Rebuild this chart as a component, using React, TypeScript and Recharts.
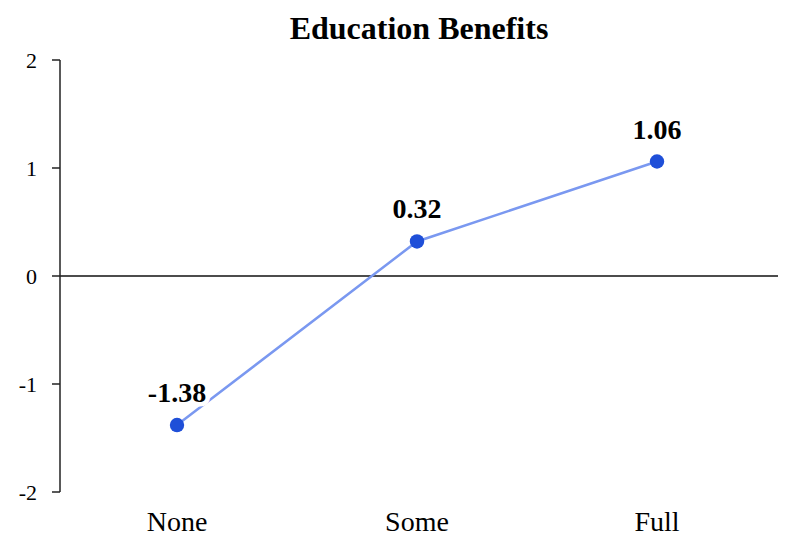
import {
  LineChart,
  Line,
  XAxis,
  YAxis,
  ReferenceLine,
  LabelList,
} from "recharts";

const levels = ["None", "Some", "Full"];
const benefit = [-1.38, 0.32, 1.06];
const yTicks = [-2, -1, 0, 1, 2];

const data = levels.map((level, i) => ({ level, value: benefit[i] }));

const serif = "'Liberation Serif', 'Times New Roman', serif";

// value label above each point, with a white halo so the line is cut behind it
function PointLabel(props: any) {
  const { x, y, value } = props;
  return (
    <text
      x={x}
      y={y - 23}
      textAnchor="middle"
      fontFamily={serif}
      fontSize={28}
      fontWeight="bold"
      fill="#000"
      stroke="#fff"
      strokeWidth={9}
      strokeLinejoin="round"
      paintOrder="stroke"
    >
      {Number(value).toFixed(2)}
    </text>
  );
}

export default function App() {
  return (
    <div
      style={{
        position: "absolute",
        left: 0,
        top: 0,
        width: 792,
        height: 539,
        background: "#fff",
      }}
    >
      <div
        style={{
          position: "absolute",
          top: 12,
          left: 60,
          width: 718,
          textAlign: "center",
          fontFamily: serif,
          fontWeight: "bold",
          fontSize: 32,
          lineHeight: "32px",
        }}
      >
        Education Benefits
      </div>

      <LineChart
        width={792}
        height={539}
        data={data}
        margin={{ top: 60, right: 14, bottom: 0, left: 0 }}
      >
        <XAxis
          dataKey="level"
          height={47}
          axisLine={false}
          tickLine={false}
          tickMargin={13}
          padding={{ left: 117, right: 121 }}
          tick={{ fontFamily: serif, fontSize: 28, fill: "#000" }}
        />
        <YAxis
          width={60}
          domain={[-2, 2]}
          ticks={yTicks}
          tickSize={8}
          tickMargin={15}
          axisLine={{ stroke: "#222", strokeWidth: 1.5 }}
          tickLine={{ stroke: "#222", strokeWidth: 1.5 }}
          tick={{ fontFamily: serif, fontSize: 22, fill: "#000" }}
        />
        <ReferenceLine y={0} stroke="#111" strokeWidth={1.5} />
        <Line
          dataKey="value"
          stroke="#7a98f0"
          strokeWidth={2.5}
          dot={{ r: 7.2, fill: "#1f4fd8", stroke: "#1f4fd8", strokeWidth: 0 }}
          activeDot={false}
          isAnimationActive={false}
        >
          <LabelList dataKey="value" content={<PointLabel />} />
        </Line>
      </LineChart>
    </div>
  );
}
